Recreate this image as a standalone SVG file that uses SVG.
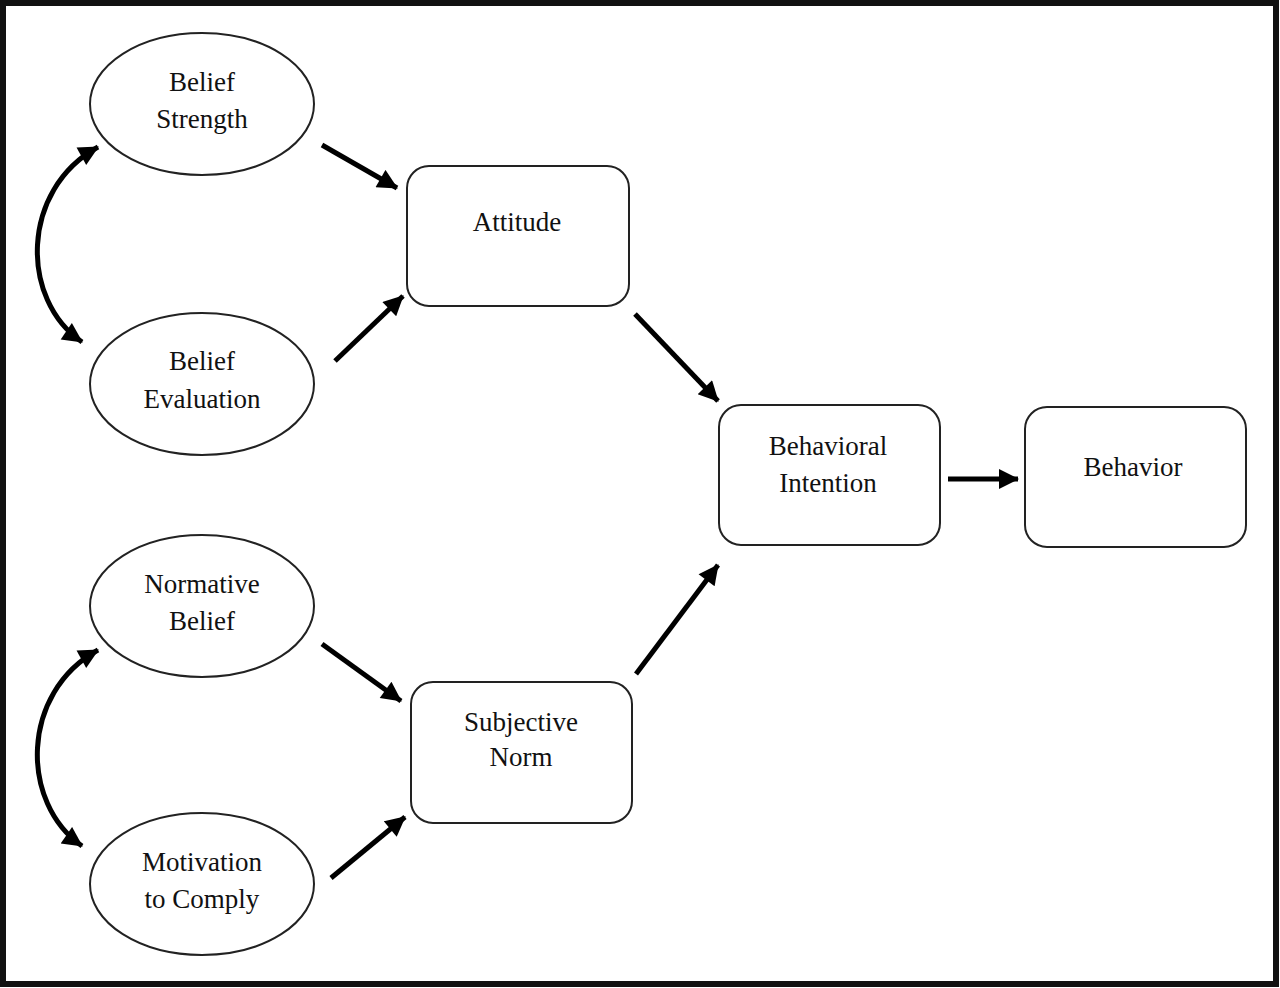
<svg xmlns="http://www.w3.org/2000/svg" width="1280" height="988" viewBox="0 0 1280 988">
<style>
.node{fill:#fff;stroke:#222;stroke-width:2}
.lbl{font-family:"Liberation Serif","Times New Roman",serif;font-size:27px;fill:#111;text-anchor:middle}
.conn{fill:none;stroke:#000;stroke-width:5}
</style>
<defs>
<marker id="ah" viewBox="0 0 10 10" refX="9.5" refY="5" markerWidth="22" markerHeight="20" markerUnits="userSpaceOnUse" orient="auto-start-reverse">
<path d="M0,0 L10,5 L0,10 z" fill="#000"/>
</marker>
</defs>
<rect x="0" y="0" width="1280" height="988" fill="#fff"/>
<rect x="3" y="3" width="1273" height="981" fill="none" stroke="#111" stroke-width="6"/>
<g id="belief-strength"><ellipse class="node" cx="202" cy="104" rx="112" ry="71"/><text class="lbl" x="202" y="91">Belief</text><text class="lbl" x="202" y="128">Strength</text></g>
<g id="belief-evaluation"><ellipse class="node" cx="202" cy="384" rx="112" ry="71"/><text class="lbl" x="202" y="370">Belief</text><text class="lbl" x="202" y="408">Evaluation</text></g>
<g id="normative-belief"><ellipse class="node" cx="202" cy="606" rx="112" ry="71"/><text class="lbl" x="202" y="593">Normative</text><text class="lbl" x="202" y="630">Belief</text></g>
<g id="motivation"><ellipse class="node" cx="202" cy="884" rx="112" ry="71"/><text class="lbl" x="202" y="871">Motivation</text><text class="lbl" x="202" y="908">to Comply</text></g>
<g id="attitude"><rect class="node" x="407" y="166" width="222" height="140" rx="22"/><text class="lbl" x="517" y="231">Attitude</text></g>
<g id="subjective-norm"><rect class="node" x="411" y="682" width="221" height="141" rx="22"/><text class="lbl" x="521" y="731">Subjective</text><text class="lbl" x="521" y="766">Norm</text></g>
<g id="behavioral-intention"><rect class="node" x="719" y="405" width="221" height="140" rx="22"/><text class="lbl" x="828" y="455">Behavioral</text><text class="lbl" x="828" y="492">Intention</text></g>
<g id="behavior"><rect class="node" x="1025" y="407" width="221" height="140" rx="22"/><text class="lbl" x="1133" y="476">Behavior</text></g>
<g id="connectors">
<line class="conn" x1="322" y1="145" x2="397" y2="188" marker-end="url(#ah)"/>
<line class="conn" x1="335" y1="361" x2="403" y2="296" marker-end="url(#ah)"/>
<line class="conn" x1="635" y1="314" x2="718" y2="401" marker-end="url(#ah)"/>
<line class="conn" x1="636" y1="674" x2="718" y2="565" marker-end="url(#ah)"/>
<line class="conn" x1="948" y1="479" x2="1018" y2="479" marker-end="url(#ah)"/>
<line class="conn" x1="322" y1="644" x2="401" y2="701" marker-end="url(#ah)"/>
<line class="conn" x1="331" y1="878" x2="405" y2="817" marker-end="url(#ah)"/>
<path class="conn" d="M98,147 C20,190 20,300 82,342" marker-start="url(#ah)" marker-end="url(#ah)"/>
<path class="conn" d="M98,650 C20,693 20,803 82,846" marker-start="url(#ah)" marker-end="url(#ah)"/>
</g>
</svg>
